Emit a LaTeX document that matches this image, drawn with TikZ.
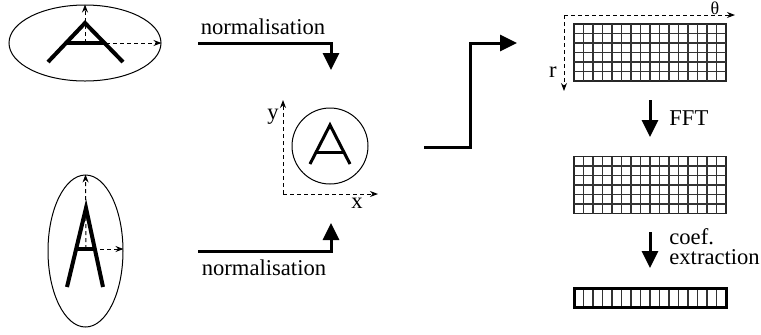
\documentclass[tikz,border=0pt]{standalone}
\usepackage{fontspec}
\setmainfont{Liberation Serif}
\usetikzlibrary{arrows.meta,shapes.geometric}
\begin{document}
\begin{tikzpicture}[x=0.5pt,y=-0.5pt,
  lbl/.style={font=\fontsize{11.3}{9.8}\selectfont, inner sep=0pt},
  bigarrow/.style={line width=1.5pt, line join=miter, -{Triangle[length=8.5pt,width=8pt]}},
  axisarrow/.style={line width=0.5pt, dash pattern=on 2pt off 1.5pt, -{Stealth[length=4pt,width=3pt]}},
  letterA/.style={line width=2pt, line join=miter},
  outline/.style={draw, line width=0.5pt, inner sep=0pt},
  gridbox/.style={draw, line width=0.65pt, black!85, inner sep=0pt, minimum width=76pt},
  gridline/.style={line width=0.65pt, black!80}]
\useasboundingbox (0,0) rectangle (761,334);

% top ellipse
\node[outline, ellipse, minimum width=76pt, minimum height=38pt] (e1) at (85,43) {};
\draw[letterA] (48,62) -- (85,23) -- (123,62);
\draw[letterA] (67,43) -- (105,43);
\draw[axisarrow] (e1.center) -- (e1.north);
\draw[axisarrow] (e1.center) -- (e1.east);

% bottom ellipse
\node[outline, ellipse, minimum width=37.5pt, minimum height=76pt] (e2) at (85.5,251) {};
\draw[letterA] (67,287) -- (86,208) -- (103,287);
\draw[letterA] (76,249) -- (95,249);
\coordinate (e2c) at (86,249);
\coordinate (e2r) at (e2.east |- e2c);
\draw[axisarrow] (e2c) -- (e2.north);
\draw[axisarrow] (e2c) -- (e2r);

% middle circle
\node[outline, circle, minimum size=38pt] (c) at (330,146) {};
\draw[line width=1.5pt, line join=miter] (310,164) -- (330,125) -- (350,164);
\draw[line width=1.5pt] (317,152) -- (343,152);
\coordinate (o) at (283,194);
\coordinate (ytip) at (283,100);
\coordinate (xtip) at (378,194);
\draw[axisarrow] (o) -- (ytip);
\draw[axisarrow] (o) -- (xtip);
\node[lbl] (ylab) at (273,117) {y};
\node[lbl] (xlab) at (357,203) {x};

% normalisation arrows
\coordinate (n1s) at (198,43);
\coordinate (n1e) at (331,70);
\draw[bigarrow] (n1s) -| (n1e);
\node[lbl, anchor=base] (n1lab) at (263,34) {normalisation};
\coordinate (n2s) at (198,251);
\coordinate (n2e) at (331,223);
\draw[bigarrow] (n2s) -| (n2e);
\node[lbl, anchor=base] (n2lab) at (264,275) {normalisation};

% step arrow
\coordinate (ss) at (424,147);
\coordinate (sm) at (470,95);
\coordinate (se) at (517,43);
\draw[bigarrow] (ss) -| (sm) |- (se);

% polar grid
\node[gridbox, minimum height=28.5pt] (g1) at (650,52.5) {};
\foreach \i in {1,...,15} \draw[gridline] (574+\i*9.5,24) -- (574+\i*9.5,81);
\foreach \j in {1,...,5} \draw[gridline] (574,24+\j*9.5) -- (726,24+\j*9.5);
\coordinate (pc) at (564,15);
\coordinate (th) at (735,15);
\coordinate (rr) at (564,91);
\draw[axisarrow] (pc) -- (th);
\draw[axisarrow] (pc) -- (rr);
\node[inner sep=0pt, font=\fontsize{9}{9}\selectfont] (thlab) at (715,8) {θ};
\node[lbl] (rlab) at (553,72) {r};

% FFT
\coordinate (f1) at (650,100);
\coordinate (f2) at (650,137);
\draw[bigarrow] (f1) -- (f2);
\node[lbl, anchor=base west] (fft) at (669,125) {FFT};

% second grid
\node[gridbox, minimum height=28.5pt] (g2) at (650,185) {};
\foreach \i in {1,...,15} \draw[gridline] (574+\i*9.5,156.5) -- (574+\i*9.5,213.5);
\foreach \j in {1,...,5} \draw[gridline] (574,156.5+\j*9.5) -- (726,156.5+\j*9.5);

% coef extraction
\coordinate (k1) at (650,232);
\coordinate (k2) at (650,268);
\draw[bigarrow] (k1) -- (k2);
\node[lbl, anchor=base west, align=left] (coef) at (669,264) {coef.\\extraction};

% bar
\foreach \i in {1,...,15} \draw[gridline] (574+\i*9.5,288) -- (574+\i*9.5,307);
\node[draw, line width=1.5pt, inner sep=0pt, minimum width=76pt, minimum height=9.5pt] (bar) at (650,297.5) {};
\end{tikzpicture}
\end{document}
